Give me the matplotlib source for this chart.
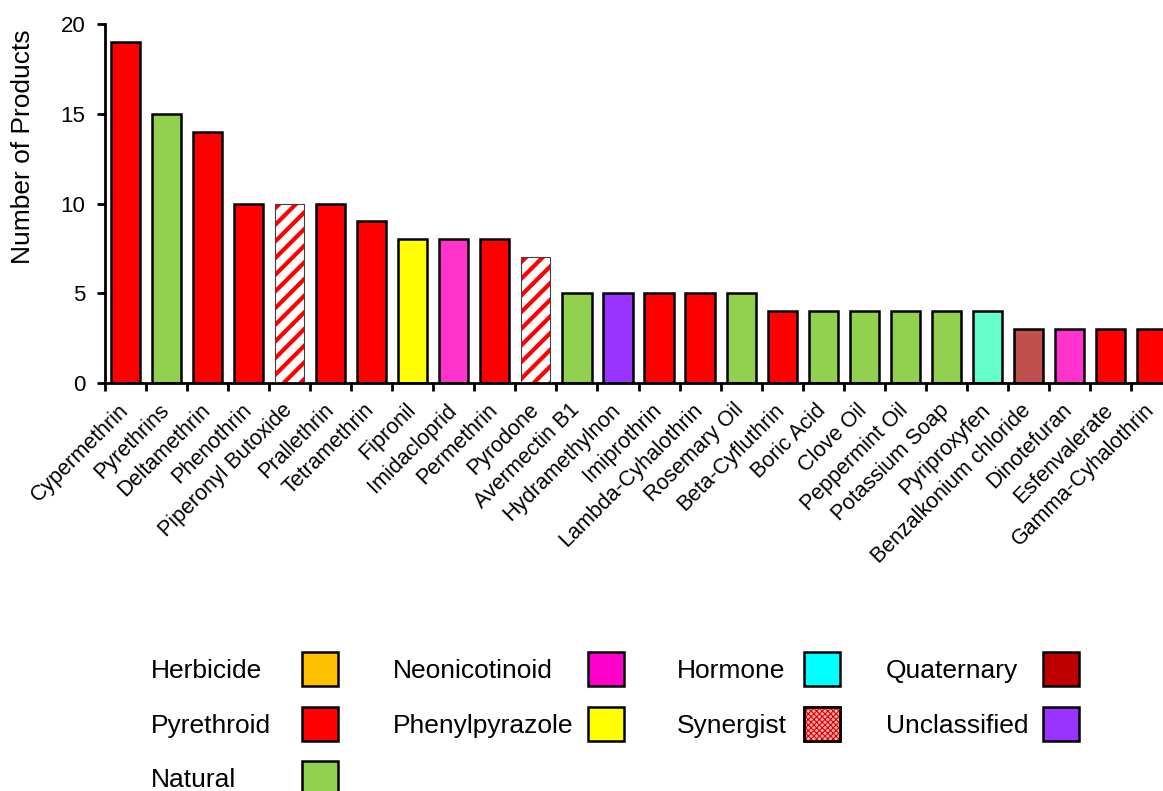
import numpy as np
import matplotlib
matplotlib.use("Agg")
import matplotlib.pyplot as plt
from matplotlib.patches import Rectangle

plt.rcParams['font.family'] = ['Liberation Sans', 'DejaVu Sans']

names = ['Cypermethrin', 'Pyrethrins', 'Deltamethrin', 'Phenothrin', 'Piperonyl Butoxide',
         'Prallethrin', 'Tetramethrin', 'Fipronil', 'Imidacloprid', 'Permethrin', 'Pyrodone',
         'Avermectin B1', 'Hydramethylnon', 'Imiprothrin', 'Lambda-Cyhalothrin', 'Rosemary Oil',
         'Beta-Cyfluthrin', 'Boric Acid', 'Clove Oil', 'Peppermint Oil', 'Potassium Soap',
         'Pyriproxyfen', 'Benzalkonium chloride', 'Dinotefuran', 'Esfenvalerate', 'Gamma-Cyhalothrin']
counts = [19, 15, 14, 10, 10, 10, 9, 8, 8, 8, 7, 5, 5, 5, 5, 5, 4, 4, 4, 4, 4, 4, 3, 3, 3, 3]
groups = ['Pyrethroid', 'Natural', 'Pyrethroid', 'Pyrethroid', 'Synergist',
          'Pyrethroid', 'Pyrethroid', 'Phenylpyrazole', 'Neonicotinoid', 'Pyrethroid', 'Synergist',
          'Natural', 'Unclassified', 'Pyrethroid', 'Pyrethroid', 'Natural',
          'Pyrethroid', 'Natural', 'Natural', 'Natural', 'Natural',
          'Hormone', 'Quaternary', 'Neonicotinoid', 'Pyrethroid', 'Pyrethroid']

bar_colors = {'Pyrethroid': '#FF0000', 'Natural': '#92D050', 'Phenylpyrazole': '#FFFF00',
              'Neonicotinoid': '#FF33CC', 'Unclassified': '#9933FF', 'Hormone': '#66FFCC',
              'Quaternary': '#C0504D', 'Synergist': 'white'}

legend_names = ['Herbicide', 'Pyrethroid', 'Natural', 'Neonicotinoid', 'Phenylpyrazole',
                'Hormone', 'Synergist', 'Quaternary', 'Unclassified']
legend_colors = ['#FFC000', '#FF0000', '#92D050', '#FF00CC', '#FFFF00',
                 '#00FFFF', '#F06060', '#C00000', '#9933FF']

fig = plt.figure(figsize=(11.63, 7.91), dpi=100)
ax = fig.add_axes([105/1163, 1-383/791, 1067/1163, 359/791])

x = np.arange(len(names))
plt.rcParams['hatch.linewidth'] = 3.0
for i in range(len(names)):
    g = groups[i]
    if g == 'Synergist':
        ax.bar(x[i], counts[i], width=0.71, color='white', edgecolor='#FF0000',
               hatch='//', linewidth=0, zorder=2)
        ax.bar(x[i], counts[i], width=0.71, fill=False, edgecolor='#404040',
               linewidth=0.8, zorder=3)
    else:
        ax.bar(x[i], counts[i], width=0.71, color=bar_colors[g], edgecolor='black',
               linewidth=1.8, zorder=2)

ax.set_xlim(-0.5, len(names)-0.5)
ax.set_ylim(0, 20)
ax.set_yticks([0, 5, 10, 15, 20])
# labels sit a little left of bar centre (rotated text box corner)
ax.set_xticks(x - 0.19)
ax.set_xticklabels(names, rotation=45, ha='right', va='top', rotation_mode='anchor', fontsize=15.5)
ax.set_xticks(np.arange(len(names)) - 0.5, minor=True)
ax.tick_params(axis='x', which='major', length=0, pad=12)
ax.tick_params(axis='x', which='minor', length=6, width=2, direction='out')
ax.tick_params(axis='y', length=6, width=2, direction='out', labelsize=16, pad=8)
ax.spines['top'].set_visible(False)
ax.spines['right'].set_visible(False)
ax.spines['left'].set_linewidth(2)
ax.spines['bottom'].set_linewidth(2)
ax.set_ylabel('Number of Products', fontsize=19)
ax.yaxis.set_label_coords(-0.066, 0.657)

# legend drawn as text + boxes
text_x = [151, 151, 151, 393, 393, 677, 677, 886, 886]
box_x = [302, 302, 302, 588, 588, 804, 804, 1043, 1043]
row_y = [669, 724, 778, 669, 724, 669, 724, 669, 724]
for i in range(len(legend_names)):
    yc = 1 - row_y[i]/791
    fig.text(text_x[i]/1163, yc - 2/791, legend_names[i], fontsize=19, va='center', ha='left')
    r = Rectangle((box_x[i]/1163, yc - 17/791), 36/1163, 34/791, transform=fig.transFigure,
                  facecolor=legend_colors[i], edgecolor='black', linewidth=1.8)
    if legend_names[i] == 'Synergist':
        r.set_facecolor('#F8B0B0')
        r2 = Rectangle((box_x[i]/1163, yc - 17/791), 36/1163, 34/791, transform=fig.transFigure,
                       facecolor='none', edgecolor='#E00000', hatch='xxxxxx', linewidth=0)
        r2.set_hatch_linewidth(0.8) if hasattr(r2, 'set_hatch_linewidth') else None
        fig.patches.append(r)
        fig.patches.append(r2)
        r3 = Rectangle((box_x[i]/1163, yc - 17/791), 36/1163, 34/791, transform=fig.transFigure,
                       facecolor='none', edgecolor='black', linewidth=1.8)
        fig.patches.append(r3)
    else:
        fig.patches.append(r)

fig.savefig('out.png', dpi=100)
